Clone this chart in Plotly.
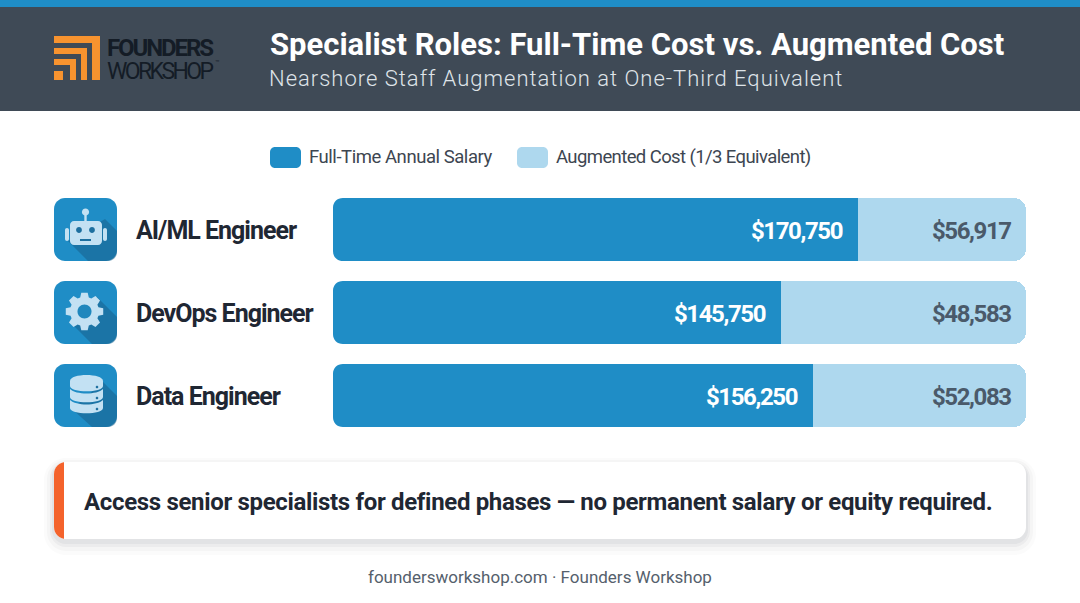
import math, re
import plotly.graph_objects as go

ROLES = ["AI/ML Engineer", "DevOps Engineer", "Data Engineer"]
FULL_TIME = [170750, 145750, 156250]
AUGMENTED = [56917, 48583, 52083]
SERIES = ["Full-Time Annual Salary", "Augmented Cost (1/3 Equivalent)"]
TRACK_END = 225400  # every row's light band runs to the same right-hand end

BLUE, LIGHT, SLATE, INK = "#1f8dc6", "#aed8ee", "#3f4a56", "#1f2733"
W, H = 1080, 603
shapes, notes = [], []

def conv(path):
    i = [0]
    def rep(m):
        v = float(m.group(0)); i[0] += 1
        return f"{v/W:.5f}" if i[0] % 2 else f"{1 - v/H:.5f}"
    return re.sub(r"-?\d+\.?\d*", rep, path)

def shape(path, fill, opacity=1):
    shapes.append(dict(type="path", xref="paper", yref="paper", path=conv(path),
                       fillcolor=fill, opacity=opacity, line=dict(width=0)))

def rr(x0, y0, x1, y1, r=0, left=True, right=True):
    rl = r if left else 0; rr_ = r if right else 0
    kl = rl * 0.45; kr = rr_ * 0.45
    return (f"M {x0+rl} {y0} L {x1-rr_} {y0} C {x1-kr} {y0} {x1} {y0+kr} {x1} {y0+rr_} "
            f"L {x1} {y1-rr_} C {x1} {y1-kr} {x1-kr} {y1} {x1-rr_} {y1} L {x0+rl} {y1} "
            f"C {x0+kl} {y1} {x0} {y1-kl} {x0} {y1-rl} L {x0} {y0+rl} C {x0} {y0+kl} {x0+kl} {y0} {x0+rl} {y0} Z")

def circle(cx, cy, r):
    k = r * 0.5523
    return (f"M {cx-r} {cy} C {cx-r} {cy-k} {cx-k} {cy-r} {cx} {cy-r} C {cx+k} {cy-r} {cx+r} {cy-k} {cx+r} {cy} "
            f"C {cx+r} {cy+k} {cx+k} {cy+r} {cx} {cy+r} C {cx-k} {cy+r} {cx-r} {cy+k} {cx-r} {cy} Z")

def sp(s, spacing):
    return f'<span style="letter-spacing:{spacing}px">{s}</span>'

def text(x, y, s, size, color, weight=400, anchor="left", family="Roboto", spacing=0):
    notes.append(dict(xref="paper", yref="paper", x=x/W, y=1-y/H, text=sp(s, spacing) if spacing else s,
                      showarrow=False, xanchor=anchor, yanchor="middle", borderpad=0,
                      font=dict(family=family, size=size, color=color, weight=weight)))

# Header
shape(rr(0, 0, 1080, 111), SLATE)
shape(rr(0, 0, 1080, 7), BLUE)
ORANGE = "#f7932f"
for r_ in [(54, 36, 100, 43), (92, 36, 100, 80), (54, 48, 87, 54), (81, 48, 87, 80),
           (54, 59, 76, 65), (70, 59, 76, 80), (54, 71, 63, 80)]:
    shape(rr(*r_), ORANGE)
text(106, 47.5, "FOUNDERS", 24, "#141c26", 700, spacing=-2.1)
text(106, 71, "WORKSHOP", 23, "#141c26", 400, spacing=-2.6)
text(214, 63, "™", 7, "#141c26")
text(269, 44, "Specialist Roles: Full-Time Cost vs. Augmented Cost", 31, "#ffffff", 700)
text(268, 79, "Nearshore Staff Augmentation at One-Third Equivalent", 22, "#dfe4e9", 300, spacing=1)

# Legend
shape(rr(270, 147, 301, 168, 5), BLUE)
shape(rr(517, 147, 548, 168, 5), LIGHT)
text(308, 157, SERIES[0], 18.5, "#3d4651", spacing=-0.45)
text(555, 157, SERIES[1], 18.5, "#3d4651", spacing=-0.6)

# Icons
SHADOW = "#17608c"
for top in (198, 281, 364):
    shape(rr(54, top, 117, top + 63, 11), BLUE)
    # round the bar's left end, which the stacked bar leaves square
    shape(f"M 333 {top-1} L 343 {top-1} L 343 {top} C 337 {top} 333 {top+4} 333 {top+10} Z", "#ffffff")
    shape(f"M 333 {top+64} L 343 {top+64} L 343 {top+63} C 337 {top+63} 333 {top+59} 333 {top+53} Z", "#ffffff")
ICON = "#c3e1f3"
# robot
shape("M 105 219 L 117 231 L 117 252 C 117 257 113 261 108 261 L 88 261 L 68 241 Z", SHADOW, .55)
shape(rr(84.3, 213, 86.7, 222), ICON)
shape(circle(85.5, 212, 3.6), ICON)
shape(rr(70, 221, 102, 245, 4), ICON)
shape(rr(65, 228, 69, 241, 2), ICON)
shape(rr(103, 228, 107, 241, 2), ICON)
shape(circle(79, 230, 2.9), "#1d6f9f")
shape(circle(92, 230, 2.9), "#1d6f9f")
shape(rr(80, 239, 91, 241), "#1d6f9f")
# gear
shape("M 97 297 L 117 317 L 117 335 C 117 340 113 344 108 344 L 92 344 L 74 326 Z", SHADOW, .55)
cx, cy, teeth = 84.5, 311.5, 8
pts = []
for i in range(teeth):
    a = 2 * math.pi * i / teeth - math.pi / 2
    for da, rad in ((-.30, 14.6), (-.17, 19), (.17, 19), (.30, 14.6)):
        pts.append((cx + rad * math.cos(a + da), cy + rad * math.sin(a + da)))
shape("M " + " L ".join(f"{x:.2f} {y:.2f}" for x, y in pts) + " Z", ICON)
shape(circle(cx, cy, 7), "#1f87bd")
# database
shape("M 103 382 L 117 396 L 117 418 C 117 423 113 427 108 427 L 92 427 L 72 409 Z", SHADOW, .55)
shape("M 70 381 C 70 373 103 373 103 381 L 103 386 C 103 393 70 393 70 386 Z", ICON)
shape("M 70 389 C 76 395 97 395 103 389 L 103 397 C 103 404 70 404 70 397 Z", ICON)
shape("M 70 400 C 76 406 97 406 103 400 L 103 408 C 103 415 70 415 70 408 Z", ICON)
for y in (387, 398, 409):
    shape(circle(97, y, 1.3), "#1d6f9f")

# Callout
for grow, off, op in ((10, 6, .025), (7, 5, .035), (4, 4, .05), (2, 3, .06)):
    shape(rr(54 - grow, 462 - grow + off, 1026 + grow, 539 + grow + off, 12 + grow), "#4a5560", op)
shape(rr(54, 462, 1026, 539, 12), "#ffffff")
shape(rr(54, 462, 66, 539, 12, right=False), "#f4632c")
shape(rr(64, 462, 80, 539), "#ffffff")
text(82.5, 502, "Access senior specialists for defined phases — no permanent salary or equity required.",
     24, INK, 700, spacing=-0.33)
text(540, 577, "foundersworkshop.com · Founders Workshop", 17, "#55606c", 400, "center")

fmt = lambda v: f"${v:,}"
fig = go.Figure()
fig.add_bar(y=ROLES, x=FULL_TIME, orientation="h", name=SERIES[0],
            marker=dict(color=BLUE, line_width=0), hoverinfo="skip")
fig.add_bar(y=ROLES, x=[TRACK_END - v for v in FULL_TIME], orientation="h", name=SERIES[1],
            marker=dict(color=LIGHT, line_width=0), hoverinfo="skip")

for role, ft, aug in zip(ROLES, FULL_TIME, AUGMENTED):
    notes.append(dict(xref="x", yref="y", x=ft, y=role, text=sp(fmt(ft), -1.4), showarrow=False, xanchor="right",
                      xshift=-13, yshift=-1, font=dict(family="Roboto", size=24, color="#ffffff", weight=700)))
    notes.append(dict(xref="x", yref="y", x=TRACK_END, y=role, text=sp(fmt(aug), -1.4), showarrow=False, xanchor="right",
                      xshift=-13, yshift=-1, font=dict(family="Roboto", size=24, color="#4a5a6a", weight=700)))
    notes.append(dict(xref="paper", yref="y", x=134 / W, y=role, text=sp(role, -1), showarrow=False, xanchor="left",
                      yshift=-1, font=dict(family="Roboto", size=25, color=INK, weight=700)))

fig.update_layout(
    width=W, height=H, margin=dict(l=0, r=0, t=0, b=0), autosize=False,
    paper_bgcolor="#ffffff", plot_bgcolor="rgba(0,0,0,0)", showlegend=False,
    barmode="stack", bargap=1 - 63 / 83, barcornerradius=12,
    xaxis=dict(domain=[333 / W, 1026 / W], range=[0, TRACK_END], visible=False, fixedrange=True),
    yaxis=dict(domain=[1 - 437 / H, 1 - 188 / H], autorange="reversed", visible=False, fixedrange=True),
    shapes=shapes, annotations=notes,
)
fig.write_html("out.html", config=dict(displayModeBar=False),
               post_script="document.body.style.margin='0';document.documentElement.style.overflow='hidden';")
